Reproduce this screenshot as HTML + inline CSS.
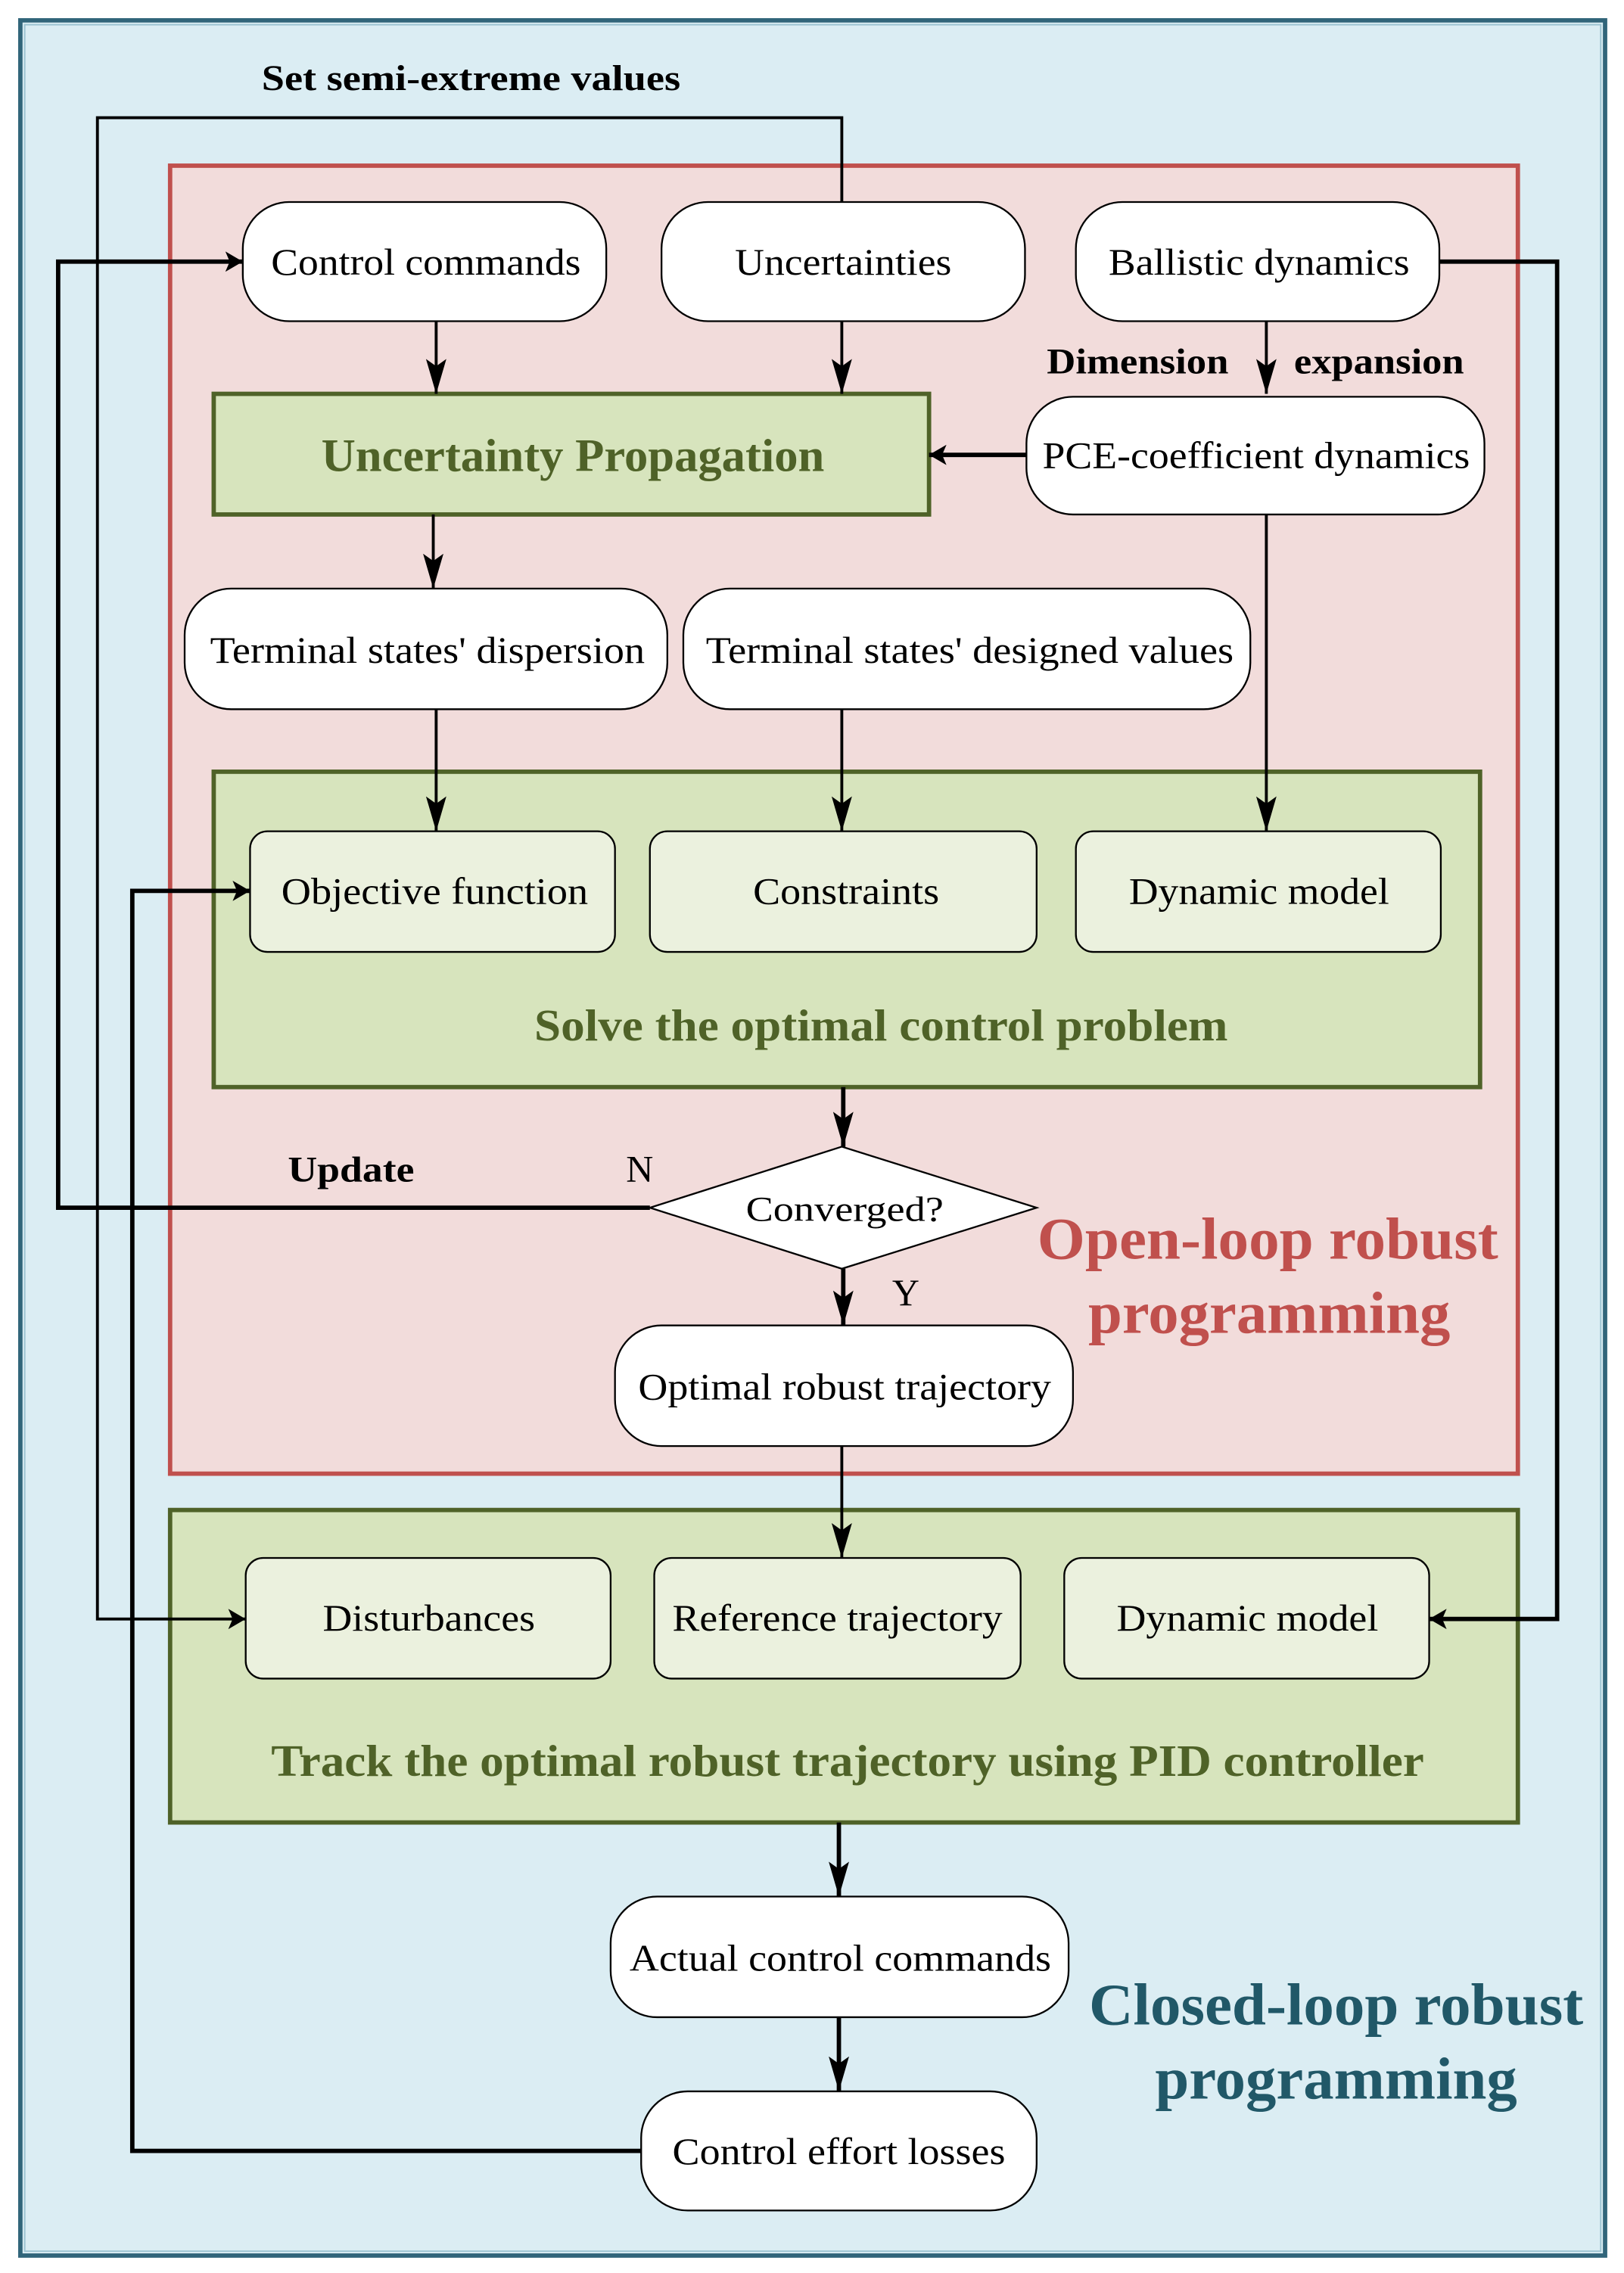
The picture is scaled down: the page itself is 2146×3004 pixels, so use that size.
<!DOCTYPE html>
<html><head><meta charset="utf-8"><style>html,body{margin:0;padding:0;background:#fff}svg{display:block}</style></head><body>
<svg width="2146" height="3004" viewBox="0 0 1117 1564" preserveAspectRatio="none" xmlns="http://www.w3.org/2000/svg" font-family="'Liberation Serif', serif">
<defs>
<marker id="a" markerWidth="12" markerHeight="14" refX="12" refY="7" orient="auto" markerUnits="userSpaceOnUse"><path d="M0,0 L12,7 L0,14 L3,7 Z" fill="#000"/></marker>
<marker id="b" markerWidth="24" markerHeight="14" refX="24" refY="7" orient="auto" markerUnits="userSpaceOnUse"><path d="M0,0 L24,7 L0,14 L5,7 Z" fill="#000"/></marker>
</defs>
<rect x="14" y="14" width="1090" height="1538" fill="#dbedf3" stroke="#31657a" stroke-width="3"/>
<rect x="17" y="17" width="1084" height="1532" fill="none" stroke="#9cc3d1" stroke-width="1"/>
<rect x="117" y="114" width="927" height="900" fill="#f2dcdb" stroke="#c0504d" stroke-width="3"/>
<rect x="147" y="531" width="871" height="217" fill="#d7e4bd" stroke="#4f6228" stroke-width="3"/>
<rect x="117" y="1039" width="927" height="215" fill="#d7e4bd" stroke="#4f6228" stroke-width="3"/>
<rect x="147" y="271" width="492" height="83" fill="#d7e4bd" stroke="#4f6228" stroke-width="3"/>
<g fill="#fff" stroke="#000" stroke-width="1.2">
<rect x="167" y="139" width="250" height="82" rx="32"/>
<rect x="455" y="139" width="250" height="82" rx="32"/>
<rect x="740" y="139" width="250" height="82" rx="32"/>
<rect x="706" y="273" width="315" height="81" rx="32"/>
<rect x="127" y="405" width="332" height="83" rx="32"/>
<rect x="470" y="405" width="390" height="83" rx="32"/>
<rect x="423" y="912" width="315" height="83" rx="32"/>
<rect x="420" y="1305" width="315" height="83" rx="32"/>
<rect x="441" y="1439" width="272" height="82" rx="32"/>
<polygon points="447,831 579,789 713,831 579,873"/>
</g>
<g fill="#ebf1de" stroke="#000" stroke-width="1.2">
<rect x="172" y="572" width="251" height="83" rx="12"/>
<rect x="447" y="572" width="266" height="83" rx="12"/>
<rect x="740" y="572" width="251" height="83" rx="12"/>
<rect x="169" y="1072" width="251" height="83" rx="12"/>
<rect x="450" y="1072" width="252" height="83" rx="12"/>
<rect x="732" y="1072" width="251" height="83" rx="12"/>
</g>
<g stroke="#000" stroke-width="2" fill="none">
<line x1="300" y1="221" x2="300" y2="271" marker-end="url(#b)"/>
<line x1="579" y1="221" x2="579" y2="271" marker-end="url(#b)"/>
<line x1="871" y1="221" x2="871" y2="271" marker-end="url(#b)"/>
<line x1="706" y1="313" x2="639" y2="313" stroke-width="3" marker-end="url(#a)"/>
<line x1="298" y1="354" x2="298" y2="405" marker-end="url(#b)"/>
<line x1="300" y1="488" x2="300" y2="572" marker-end="url(#b)"/>
<line x1="579" y1="488" x2="579" y2="572" marker-end="url(#b)"/>
<line x1="871" y1="354" x2="871" y2="572" marker-end="url(#b)"/>
<line x1="580" y1="748" x2="580" y2="789" stroke-width="3" marker-end="url(#b)"/>
<line x1="580" y1="873" x2="580" y2="912" stroke-width="3" marker-end="url(#b)"/>
<line x1="579" y1="995" x2="579" y2="1072" marker-end="url(#b)"/>
<line x1="577" y1="1254" x2="577" y2="1305" stroke-width="3" marker-end="url(#b)"/>
<line x1="577" y1="1388" x2="577" y2="1439" stroke-width="3" marker-end="url(#b)"/>
<polyline points="447,831 40,831 40,180 167,180" stroke-width="3" marker-end="url(#a)"/>
<polyline points="579,139 579,81 67,81 67,1114 169,1114" marker-end="url(#a)"/>
<polyline points="990,180 1071,180 1071,1114 983,1114" stroke-width="3" marker-end="url(#a)"/>
<polyline points="441,1480 91,1480 91,613 172,613" stroke-width="3" marker-end="url(#a)"/>
</g>
<g font-size="26" text-anchor="middle" fill="#000" lengthAdjust="spacingAndGlyphs">
<text x="293" y="189" textLength="213" lengthAdjust="spacingAndGlyphs">Control commands</text>
<text x="580" y="189" textLength="149" lengthAdjust="spacingAndGlyphs">Uncertainties</text>
<text x="866" y="189" textLength="207" lengthAdjust="spacingAndGlyphs">Ballistic dynamics</text>
<text x="864" y="322" textLength="294" lengthAdjust="spacingAndGlyphs">PCE-coefficient dynamics</text>
<text x="294" y="456" textLength="299" lengthAdjust="spacingAndGlyphs">Terminal states' dispersion</text>
<text x="667" y="456" textLength="363" lengthAdjust="spacingAndGlyphs">Terminal states' designed values</text>
<text x="299" y="622" textLength="211" lengthAdjust="spacingAndGlyphs">Objective function</text>
<text x="582" y="622" textLength="128" lengthAdjust="spacingAndGlyphs">Constraints</text>
<text x="866" y="622" textLength="179" lengthAdjust="spacingAndGlyphs">Dynamic model</text>
<text x="581" y="840" font-size="24" textLength="136" lengthAdjust="spacingAndGlyphs">Converged?</text>
<text x="581" y="963" textLength="284" lengthAdjust="spacingAndGlyphs">Optimal robust trajectory</text>
<text x="295" y="1122" textLength="146" lengthAdjust="spacingAndGlyphs">Disturbances</text>
<text x="576" y="1122" textLength="227" lengthAdjust="spacingAndGlyphs">Reference trajectory</text>
<text x="858" y="1122" textLength="180" lengthAdjust="spacingAndGlyphs">Dynamic model</text>
<text x="578" y="1356" textLength="290" lengthAdjust="spacingAndGlyphs">Actual control commands</text>
<text x="577" y="1489" textLength="229" lengthAdjust="spacingAndGlyphs">Control effort losses</text>
<text x="440" y="813">N</text>
<text x="623" y="898">Y</text>
</g>
<g font-size="25" font-weight="bold" fill="#000">
<text x="180" y="62" textLength="288" lengthAdjust="spacingAndGlyphs">Set semi-extreme values</text>
<text x="720" y="257" textLength="125" lengthAdjust="spacingAndGlyphs">Dimension</text>
<text x="890" y="257" textLength="117" lengthAdjust="spacingAndGlyphs">expansion</text>
<text x="198" y="813" textLength="87" lengthAdjust="spacingAndGlyphs">Update</text>
</g>
<g font-weight="bold" fill="#4f6228" text-anchor="middle" font-size="32">
<text x="394" y="324" textLength="346" lengthAdjust="spacingAndGlyphs">Uncertainty Propagation</text>
<text x="606" y="716" font-size="31" textLength="477" lengthAdjust="spacingAndGlyphs">Solve the optimal control problem</text>
<text x="583" y="1222" font-size="31" textLength="793" lengthAdjust="spacingAndGlyphs">Track the optimal robust trajectory using PID controller</text>
</g>
<g font-weight="bold" fill="#c0504d" text-anchor="middle" font-size="41">
<text x="872" y="866" textLength="317" lengthAdjust="spacingAndGlyphs">Open-loop robust</text>
<text x="873" y="917" textLength="249" lengthAdjust="spacingAndGlyphs">programming</text>
</g>
<g font-weight="bold" fill="#215868" text-anchor="middle" font-size="41">
<text x="919" y="1393" textLength="340" lengthAdjust="spacingAndGlyphs">Closed-loop robust</text>
<text x="919" y="1444" textLength="249" lengthAdjust="spacingAndGlyphs">programming</text>
</g>
</svg>
</body></html>
